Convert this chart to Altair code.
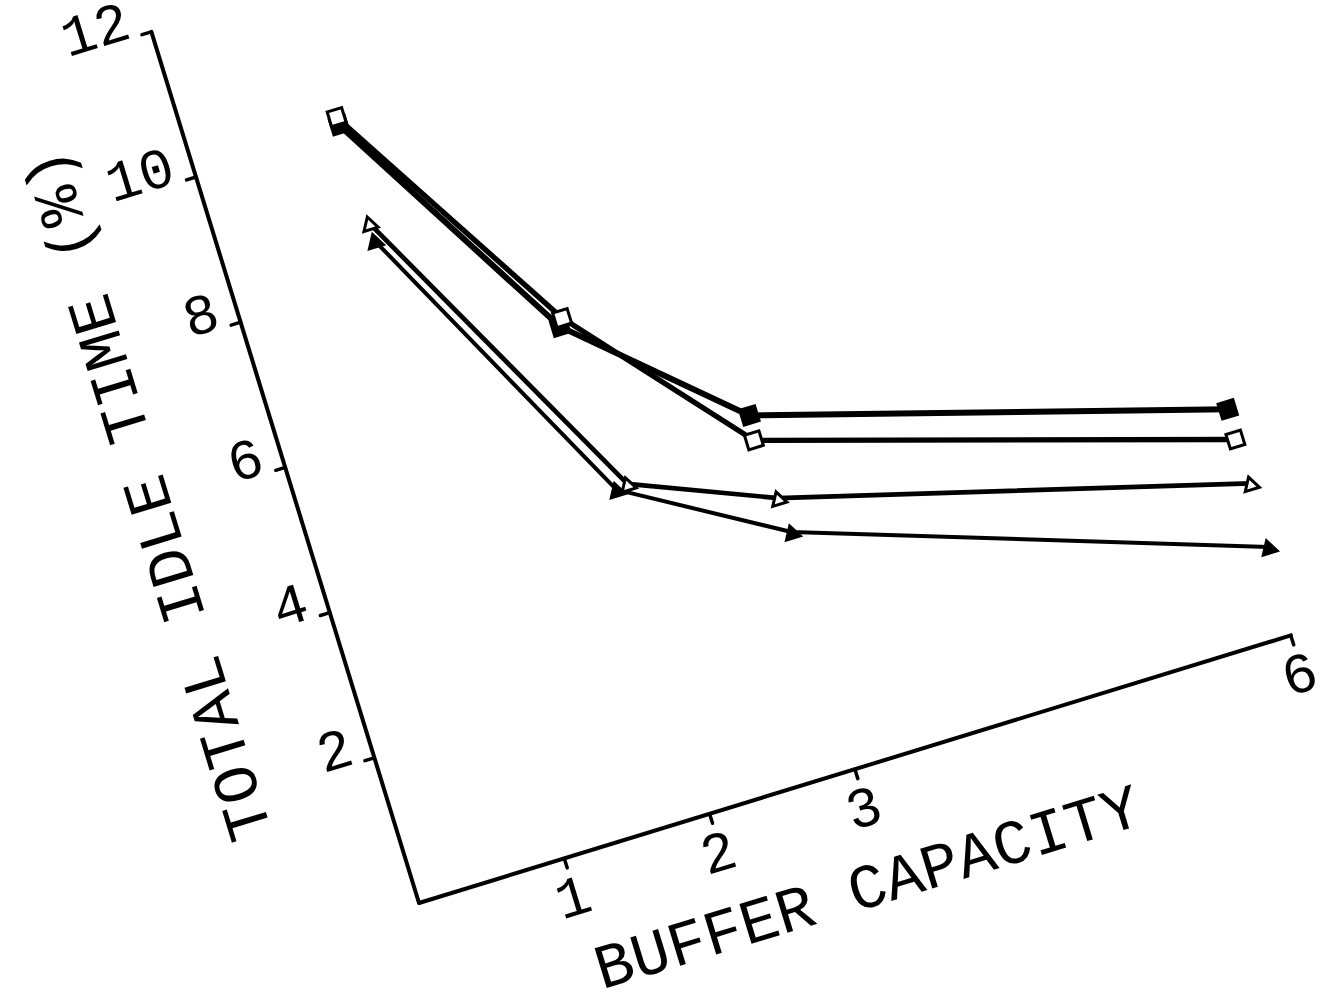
import altair as alt
import pandas as pd

# Total idle time (%) against buffer capacity, four experimental series
buffer_filled_square = [1.0, 2.0, 3.02, 6.04]
idle_filled_square = [10.1, 6.71, 4.86, 3.09]
buffer_open_square = [1.0, 2.03, 3.0, 6.03]
idle_open_square = [10.21, 6.81, 4.53, 2.68]
buffer_open_triangle = [1.0, 2.12, 3.04, 6.04]
idle_open_triangle = [8.75, 4.47, 3.71, 2.07]
buffer_filled_triangle = [1.0, 2.04, 3.06, 6.03]
idle_filled_triangle = [8.51, 4.44, 3.23, 1.2]

series_names = ["filled square", "open square", "open triangle", "filled triangle"]
x_ticks = [1, 2, 3, 6]
y_ticks = [2, 4, 6, 8, 10, 12]
x_max = 6
y_max = 12
x_title = "BUFFER CAPACITY"
y_title = "TOTAL IDLE TIME (%)"

# The whole plot frame is drawn turned 17 degrees anticlockwise on the page:
# data (b, t) -> page pixels through an origin and two axis unit vectors.
OX, OY = 419.0, 903.0
UXX, UXY = 145.3, -44.6   # one unit of buffer capacity
UYX, UYY = -22.3, -72.6   # one unit of idle time
W, H = 1325, 1002
FONT = "Liberation Mono"


def page(chart, b, t, px, py):
    return chart.transform_calculate(**{
        px: f"{OX} + {UXX}*datum.{b} + {UYX}*datum.{t}",
        py: f"{OY} + {UXY}*datum.{b} + {UYY}*datum.{t}",
    })


XS = alt.Scale(domain=[0, W], range=[0, W], nice=False, zero=False)
YS = alt.Scale(domain=[0, H], range=[0, H], nice=False, zero=False)


def X(f):
    return alt.X(f"{f}:Q", scale=XS, axis=None)


def Y(f):
    return alt.Y(f"{f}:Q", scale=YS, axis=None)


# series table
rows = []
for name, bs, ts in [
    (series_names[0], buffer_filled_square, idle_filled_square),
    (series_names[1], buffer_open_square, idle_open_square),
    (series_names[2], buffer_open_triangle, idle_open_triangle),
    (series_names[3], buffer_filled_triangle, idle_filled_triangle),
]:
    for i, (b, t) in enumerate(zip(bs, ts)):
        rows.append({"series": name, "idx": i, "b": b, "t": t})
series_df = pd.DataFrame(rows)

# axis lines
axes_df = pd.DataFrame([
    {"b0": 0, "t0": 0, "b1": x_max, "t1": 0},
    {"b0": 0, "t0": 0, "b1": 0, "t1": y_max},
])
# tick marks: y ticks point outward to the left, x ticks point down
tick_rows = [{"b0": 0, "t0": v, "b1": -0.065, "t1": v} for v in y_ticks]
tick_rows += [{"b0": v, "t0": 0, "b1": v, "t1": -0.13} for v in x_ticks]
ticks_df = pd.DataFrame(tick_rows)

seg_layers = []
for df, sw in [(axes_df, 4), (ticks_df, 3.5)]:
    c = alt.Chart(df)
    c = page(c, "b0", "t0", "px0", "py0")
    c = page(c, "b1", "t1", "px1", "py1")
    seg_layers.append(
        c.mark_rule(color="black", strokeWidth=sw, strokeCap="round").encode(
            x=X("px0"), y=Y("py0"), x2="px1:Q", y2="py1:Q"
        )
    )

widths = alt.Scale(domain=series_names, range=[6, 4, 4, 4])
lines = page(alt.Chart(series_df), "b", "t", "px", "py").mark_line(
    color="black", strokeJoin="round", strokeCap="round"
).encode(
    x=X("px"), y=Y("py"),
    detail="series:N",
    order="idx:Q",
    strokeWidth=alt.StrokeWidth("series:N", scale=widths, legend=None),
)

shapes = alt.Scale(domain=series_names,
                   range=["square", "square", "triangle-up", "triangle-up"])
fills = alt.Scale(domain=series_names, range=["black", "white", "white", "black"])
sizes = alt.Scale(domain=series_names, range=[240, 210, 320, 320])
points = page(alt.Chart(series_df), "b", "t", "px", "py").mark_point(
    filled=True, stroke="black", strokeWidth=3, opacity=1, angle=343
).encode(
    x=X("px"), y=Y("py"),
    shape=alt.Shape("series:N", scale=shapes, legend=None),
    fill=alt.Fill("series:N", scale=fills, legend=None),
    size=alt.Size("series:N", scale=sizes, legend=None),
)

# tick labels
ylab_df = pd.DataFrame({"t": y_ticks, "b": [0] * len(y_ticks),
                        "label": [str(v) for v in y_ticks]})
ylabels = page(alt.Chart(ylab_df), "b", "t", "px", "py").mark_text(
    font=FONT, fontSize=57, align="right", baseline="middle",
    angle=343, dx=-19, dy=-17, color="black"
).encode(x=X("px"), y=Y("py"), text="label:N")

xlab_df = pd.DataFrame({"b": x_ticks, "t": [0] * len(x_ticks),
                        "label": [str(v) for v in x_ticks]})
xlabels = page(alt.Chart(xlab_df), "b", "t", "px", "py").mark_text(
    font=FONT, fontSize=57, align="center", baseline="middle",
    angle=343, dx=-3, dy=41, color="black"
).encode(x=X("px"), y=Y("py"), text="label:N")

# axis titles, placed in the rotated frame
xt_df = pd.DataFrame({"b": [2.85], "t": [-1.55], "label": [x_title]})
xtitle = page(alt.Chart(xt_df), "b", "t", "px", "py").mark_text(
    font=FONT, fontSize=63, align="center", baseline="middle",
    angle=343, color="black"
).encode(x=X("px"), y=Y("py"), text="label:N")

yt_df = pd.DataFrame({"b": [-0.91], "t": [6.18], "label": [y_title]})
ytitle = page(alt.Chart(yt_df), "b", "t", "px", "py").mark_text(
    font=FONT, fontSize=63, align="center", baseline="middle",
    angle=253, color="black"
).encode(x=X("px"), y=Y("py"), text="label:N")

chart = alt.layer(
    *seg_layers, lines, points, ylabels, xlabels, xtitle, ytitle
).properties(
    width=W, height=H, autosize="none", padding=0, background="white"
).configure_view(stroke=None)

chart.save("out.html", embed_options={"renderer": "svg", "actions": False})
